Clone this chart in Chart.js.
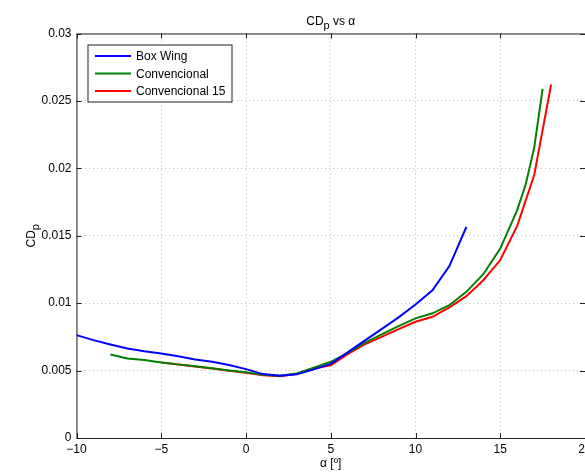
<!DOCTYPE html>
<html>
<head>
<meta charset="utf-8">
<script src="https://cdn.jsdelivr.net/npm/chart.js@4"></script>
<style>
  html, body { margin: 0; padding: 0; background: #fff; overflow: hidden; width: 585px; height: 472px; }
  canvas { display: block; }
</style>
</head>
<body>
<canvas id="cdp" width="662" height="472"></canvas>
<script>
// angle of attack [deg] and CDp for each configuration
const alphaBox = [-10, -9, -8, -7, -6, -5, -4, -3, -2, -1, 0, 1, 2, 3, 4, 5, 6, 7, 8, 9, 10, 11, 12, 13]
const cdBox = [0.00763, 0.00726, 0.00694, 0.00664, 0.00644, 0.00627, 0.00607, 0.00583, 0.00565, 0.00541,
    0.00511, 0.00474, 0.00462, 0.00472, 0.00509, 0.00550, 0.00635, 0.00722, 0.00808, 0.00895,
    0.00990, 0.01095, 0.01275, 0.01565]

const alphaConv = [-8, -7, -6, -5, -4, -3, -2, -1, 0, 1, 2, 3, 4, 5, 6, 7, 8, 9, 10, 11, 12, 13, 14, 15, 16, 16.5, 17, 17.5]
const cdConv = [0.00620, 0.00590, 0.00578, 0.00560, 0.00546, 0.00533, 0.00518, 0.00500, 0.00487, 0.00469,
    0.00461, 0.00478, 0.00522, 0.00565, 0.00632, 0.00706, 0.00768, 0.00830, 0.00887, 0.00925,
    0.00985, 0.01084, 0.01215, 0.01405, 0.01690, 0.01880, 0.02150, 0.02590]

const alphaConv15 = [-5, -4, -3, -2, -1, 0, 1, 2, 3, 4, 5, 6, 7, 8, 9, 10, 11, 12, 13, 14, 15, 16, 17, 18]
const cdConv15 = [0.00560, 0.00545, 0.00530, 0.00515, 0.00498, 0.00483, 0.00466, 0.00458, 0.00474, 0.00515,
    0.00540, 0.00622, 0.00694, 0.00750, 0.00807, 0.00862, 0.00899, 0.00968, 0.01052, 0.01170,
    0.01320, 0.01573, 0.01948, 0.02622]

const seriesNames = ['Box Wing', 'Convencional', 'Convencional 15']
const seriesColors = ['#0000ff', '#008000', '#ff0000']

const xTicks = [-10, -5, 0, 5, 10, 15, 20]
const yTicks = [0, 0.005, 0.01, 0.015, 0.02, 0.025, 0.03]

const FONT = 'Liberation Sans, Arial, Helvetica, sans-serif'

function pts(xs, ys) {
    return xs.map((x, i) => ({ x: x, y: ys[i] }))
}

// text with a lowered "p", the way matlab writes CD_p
function subText(ctx, parts, x, y) {
    // parts: [[text, isSub], ...], x is the centre
    let w = 0
    parts.forEach(p => {
        ctx.font = (p[1] ? '11px ' : '12px ') + FONT
        w += ctx.measureText(p[0]).width
    })
    let cx = x - w / 2
    parts.forEach(p => {
        ctx.font = (p[1] ? '11px ' : '12px ') + FONT
        ctx.fillText(p[0], cx, y + (p[1] ? 4 : 0))
        cx += ctx.measureText(p[0]).width
    })
}

const titles = {
    id: 'titles',
    afterDraw(chart) {
        const { ctx, chartArea: a } = chart
        ctx.save()
        ctx.fillStyle = '#000'
        ctx.textBaseline = 'alphabetic'
        ctx.textAlign = 'left'
        subText(ctx, [['CD', false], ['p', true], [' vs α', false]], (a.left + a.right) / 2, 25)
        ctx.translate(35, (a.top + a.bottom) / 2)
        ctx.rotate(-Math.PI / 2)
        subText(ctx, [['CD', false], ['p', true]], 0, 0)
        ctx.restore()
    }
}

// box round the axes and matlab style inward ticks
const axesBox = {
    id: 'axesBox',
    beforeDatasetsDraw(chart) {
        const { ctx, chartArea: a, scales } = chart
        ctx.save()
        ctx.strokeStyle = '#222'
        ctx.lineWidth = 1
        ctx.strokeRect(a.left + 0.5, a.top + 0.5, a.right - a.left, a.bottom - a.top)
        ctx.beginPath()
        xTicks.forEach(v => {
            const px = Math.round(scales.x.getPixelForValue(v)) + 0.5
            ctx.moveTo(px, a.bottom); ctx.lineTo(px, a.bottom - 5)
            ctx.moveTo(px, a.top); ctx.lineTo(px, a.top + 5)
        })
        yTicks.forEach(v => {
            const py = Math.round(scales.y.getPixelForValue(v)) + 0.5
            ctx.moveTo(a.left, py); ctx.lineTo(a.left + 5, py)
            ctx.moveTo(a.right, py); ctx.lineTo(a.right - 5, py)
        })
        ctx.stroke()
        ctx.restore()
    }
}

// boxed legend in the upper left corner
const boxLegend = {
    id: 'boxLegend',
    afterDraw(chart) {
        const { ctx, chartArea: a } = chart
        const x0 = a.left + 11.5, y0 = a.top + 11.5
        ctx.save()
        ctx.fillStyle = '#fff'
        ctx.fillRect(x0, y0, 144, 57)
        ctx.strokeStyle = '#222'
        ctx.lineWidth = 1
        ctx.strokeRect(x0, y0, 144, 57)
        ctx.font = '12px ' + FONT
        ctx.textBaseline = 'middle'
        chart.data.datasets.forEach((ds, i) => {
            const y = y0 + 11 + i * 17.5
            ctx.strokeStyle = ds.borderColor
            ctx.lineWidth = 2
            ctx.beginPath()
            ctx.moveTo(x0 + 7, y); ctx.lineTo(x0 + 43, y)
            ctx.stroke()
            ctx.fillStyle = '#000'
            ctx.fillText(ds.label, x0 + 48, y + 1)
        })
        ctx.restore()
    }
}

const ctx = document.getElementById('cdp').getContext('2d')
const myChart = new Chart(ctx, {
    type: 'line',
    data: {
        datasets: [
            { label: seriesNames[0], data: pts(alphaBox, cdBox), borderColor: seriesColors[0] },
            { label: seriesNames[1], data: pts(alphaConv, cdConv), borderColor: seriesColors[1] },
            { label: seriesNames[2], data: pts(alphaConv15, cdConv15), borderColor: seriesColors[2] }
        ]
    },
    options: {
        responsive: false,
        animation: false,
        devicePixelRatio: 1,
        layout: { padding: { top: 33.5, right: 77, bottom: 0, left: 0 } },
        elements: {
            line: { borderWidth: 2, tension: 0, fill: false },
            point: { radius: 0 }
        },
        plugins: {
            legend: { display: false },
            tooltip: { enabled: false },
            title: { display: false }
        },
        scales: {
            x: {
                type: 'linear',
                min: -10,
                max: 20,
                afterFit: (s) => { s.height = 34 },
                afterBuildTicks: (s) => { s.ticks = xTicks.map(v => ({ value: v })) },
                ticks: {
                    color: '#000',
                    font: { family: FONT, size: 12 },
                    padding: 4,
                    maxRotation: 0,
                    callback: (v) => String(v).replace('-', '\u2212')
                },
                grid: { color: '#b8b8b8', drawTicks: false },
                border: { display: false, dash: [1, 3] },
                title: {
                    display: true,
                    text: 'α [º]',
                    color: '#000',
                    font: { family: FONT, size: 12 },
                    padding: { top: 0, bottom: 1 }
                }
            },
            y: {
                type: 'linear',
                min: 0,
                max: 0.03,
                afterFit: (s) => { s.width = 76.5 },
                afterBuildTicks: (s) => { s.ticks = yTicks.map(v => ({ value: v })) },
                ticks: {
                    color: '#000',
                    font: { family: FONT, size: 12 },
                    padding: 5,
                    callback: (v) => String(parseFloat(v.toFixed(4)))
                },
                grid: { color: '#b8b8b8', drawTicks: false },
                border: { display: false, dash: [1, 3] }
            }
        }
    },
    plugins: [axesBox, boxLegend, titles]
})
</script>
</body>
</html>
